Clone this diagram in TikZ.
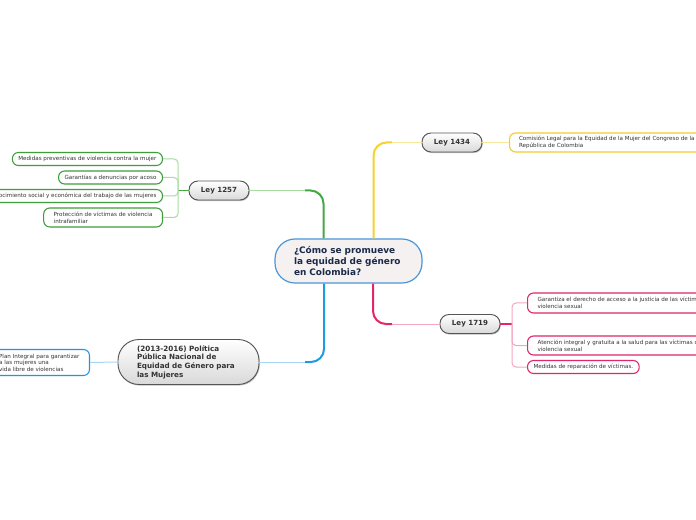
\documentclass[tikz,border=0pt]{standalone}
\usepackage{fontspec}
\setmainfont{DejaVu Sans}
\usetikzlibrary{calc,shadows}
\newdimen\pxu \pxu=0.75pt
\definecolor{gdark}{HTML}{44A845}
\definecolor{gpale}{HTML}{A8DCA0}
\definecolor{gbox}{HTML}{3D9E3A}
\definecolor{ydark}{HTML}{F7D22C}
\definecolor{ypale}{HTML}{FAE89A}
\definecolor{ybox}{HTML}{F5CB2A}
\definecolor{bdark}{HTML}{1E9BE0}
\definecolor{bpale}{HTML}{A6D6F4}
\definecolor{bbox}{HTML}{2196DD}
\definecolor{pdark}{HTML}{E3266C}
\definecolor{ppale}{HTML}{F4A6C3}
\definecolor{pbox}{HTML}{E0266B}
\definecolor{hubfill}{HTML}{F5F1F1}
\definecolor{hubline}{HTML}{4A96D8}
\definecolor{navy}{HTML}{1A2A4A}
\definecolor{textdark}{HTML}{333333}
\definecolor{leyline}{HTML}{555555}
\tikzset{
  leaf/.style={draw, line width=0.8pt, fill=white, rounded corners=6\pxu,
    font=\fontsize{4.2}{5.25}\selectfont, text=textdark, align=left,
    inner xsep=6\pxu, inner ysep=1\pxu, minimum height=13\pxu},
  ley/.style={draw=leyline, line width=0.7pt, top color=white, bottom color=gray!30,
    rounded corners=9\pxu, font=\fontsize{5.3}{6.5}\selectfont\bfseries, text=textdark,
    minimum width=60\pxu, minimum height=19\pxu, inner sep=0pt,
    drop shadow={shadow xshift=0.6pt, shadow yshift=-0.8pt, opacity=0.25, fill=black}},
  hub/.style={draw=hubline, line width=0.9pt, fill=hubfill, rounded corners=20\pxu,
    font=\fontsize{6.7}{8.25}\selectfont\bfseries, text=navy, align=left,
    inner ysep=2\pxu},
  sub/.style={draw=leyline, line width=0.7pt, top color=white, bottom color=gray!30,
    rounded corners=21\pxu, font=\fontsize{5.4}{6.45}\selectfont\bfseries, text=textdark, align=left,
    inner ysep=2\pxu,
    drop shadow={shadow xshift=0.6pt, shadow yshift=-0.8pt, opacity=0.25, fill=black}},
  trunk/.style={line width=1.5pt, rounded corners=13\pxu},
  twig/.style={line width=0.75pt},
  brk/.style={line width=0.75pt, rounded corners=4\pxu}
}
\begin{document}
\begin{tikzpicture}[x=0.75pt,y=-0.75pt]
\useasboundingbox (0,0) rectangle (696,520);
\clip (0,0) rectangle (696,520);
\fill[white] (0,0) rectangle (696,520);

% hub
\node[hub, minimum width=147\pxu, minimum height=44\pxu, text width=109\pxu, inner xsep=19\pxu] (c) at (348.5,261)
  {¿Cómo se promueve\\la equidad de género\\en Colombia?};

% main branches
\node[ley] (l1434) at (452,142.5) {Ley 1434};
\node[ley] (l1257) at (219,190.5) {Ley 1257};
\node[ley] (l1719) at (470,324) {Ley 1719};
\node[sub, minimum width=141\pxu, minimum height=45\pxu, text width=103\pxu, inner xsep=19\pxu] (pol) at (188.5,362)
  {(2013-2016) Política\\Pública Nacional de\\Equidad de Género para\\las Mujeres};

% leaves: Ley 1434
\node[leaf, draw=ybox, anchor=west, inner xsep=9.5\pxu, minimum height=19\pxu] (y1) at (509,142.5)
  {Comisión Legal para la Equidad de la Mujer del Congreso de la\\República de Colombia};

% leaves: Ley 1257
\node[leaf, draw=gbox, anchor=east] (m1) at (163,159) {Medidas preventivas de violencia contra la mujer};
\node[leaf, draw=gbox, anchor=east] (m2) at (163,177.5) {Garantías a denuncias por acoso};
\node[leaf, draw=gbox, anchor=east] (m3) at (163,196) {Reconocimiento social y económica del trabajo de las mujeres};
\node[leaf, draw=gbox, anchor=east, inner xsep=10\pxu, minimum height=19\pxu] (m4) at (163,217.5)
  {Protección de víctimas de violencia\\intrafamiliar};

% leaves: Ley 1719
\node[leaf, draw=pbox, anchor=west, inner xsep=10\pxu, minimum height=20\pxu] (p1) at (527,303)
  {Garantiza el derecho de acceso a la justicia de las víctimas de\\violencia sexual};
\node[leaf, draw=pbox, anchor=west, inner xsep=10\pxu, minimum height=19\pxu] (p2) at (527,345.5)
  {Atención integral y gratuita a la salud para las víctimas de\\violencia sexual};
\node[leaf, draw=pbox, anchor=west] (p3) at (527,367) {Medidas de reparación de víctimas.};

% leaf: politica
\node[leaf, draw=bbox, anchor=east, inner xsep=10\pxu, minimum height=26\pxu,
  font=\fontsize{4.2}{4.9}\selectfont] (b1) at (90,362.5)
  {Plan Integral para garantizar\\a las mujeres una\\vida libre de violencias};

% trunk connectors
\coordinate (gk) at (305,190.5);
\coordinate (yk) at (392,142.5);
\coordinate (bk) at (305,362);
\coordinate (pk) at (392,324);
\draw[trunk, gdark] ($(c.north)+(-25,0)$) |- (gk);
\draw[twig, gpale] (gk) -- (l1257.east);
\draw[trunk, ydark] ($(c.north)+(25,0)$) |- (yk);
\draw[twig, ypale] (yk) -- (l1434.west);
\draw[trunk, bdark] ($(c.south)+(-24.5,0)$) |- (bk);
\draw[twig, bpale] (bk) -- (pol.east);
\draw[trunk, pdark] ($(c.south)+(24.5,0)$) |- (pk);
\draw[twig, ppale] (pk) -- (l1719.west);

% secondary connectors
\draw[twig, ypale] (l1434.east) -- (y1.west);
\draw[twig, bpale] (pol.west) -- (b1.east);

\coordinate (gb) at (178,190.5);
\draw[line width=1pt, gdark] (l1257.west) -- (gb);
\draw[brk, gpale] (gb) |- (m1.east);
\draw[brk, gpale] (gb) |- (m2.east);
\draw[brk, gpale] (gb) |- (m3.east);
\draw[brk, gpale] (gb) |- (m4.east);

\coordinate (pb) at (512,324);
\draw[line width=1pt, pdark] (l1719.east) -- (pb);
\draw[brk, ppale] (pb) |- (p1.west);
\draw[brk, ppale] (pb) |- (p2.west);
\draw[brk, ppale] (pb) |- (p3.west);
\end{tikzpicture}
\end{document}
